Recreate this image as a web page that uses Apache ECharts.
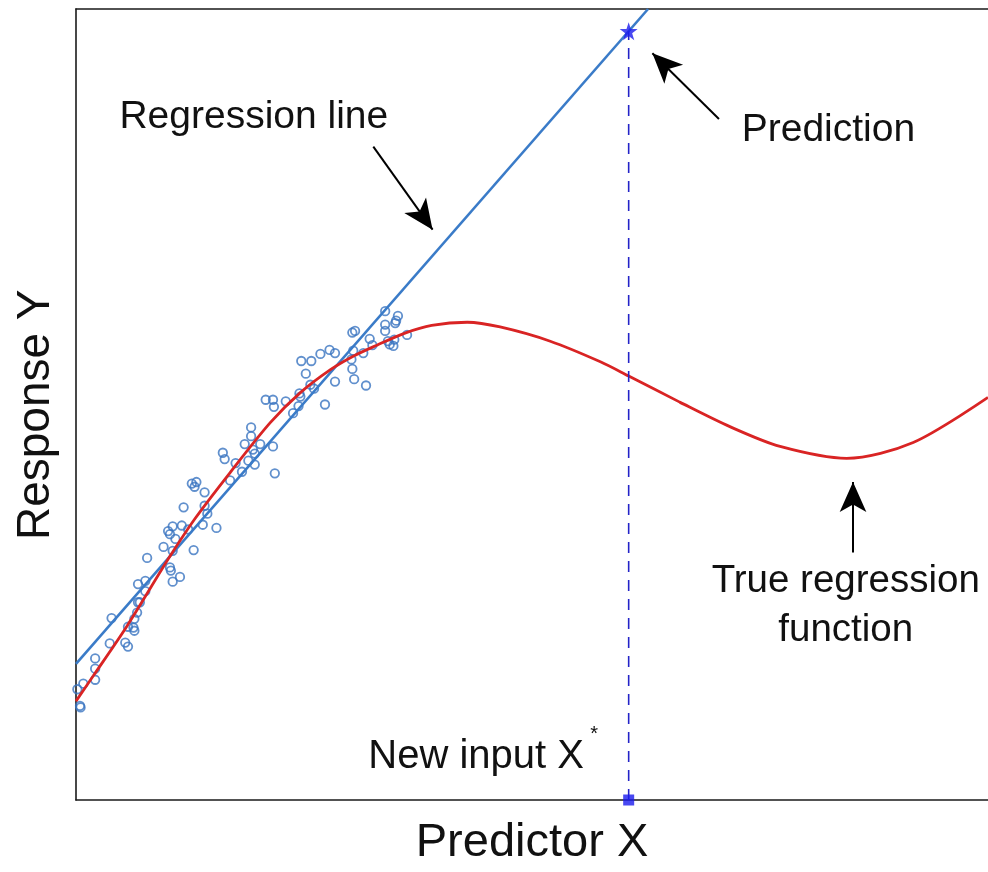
<!DOCTYPE html>
<html><head><meta charset="utf-8">
<script src="https://cdn.jsdelivr.net/npm/echarts@6/dist/echarts.min.js"></script>
<style>html,body{margin:0;padding:0;background:#fff}#c{width:988px;height:872px}</style>
</head><body><div id="c"></div>
<script>
// observed sample points (axis units 0..100)
const obsX = [0.15,0.8,0.44,0.5,2.1,2.1,2.1,3.7,3.9,5.4,
  5.7,5.7,6.3,6.4,6.4,6.7,6.8,7.0,6.8,7.6,
  7.6,7.8,9.6,10.3,10.4,10.6,10.6,11.4,10.9,10.1,
  10.3,10.6,11.6,12.3,11.8,12.9,13.9,14.1,14.4,15.4,
  12.7,13.0,13.2,14.1,16.1,16.3,16.9,17.5,18.2,18.5,
  18.9,19.2,19.2,19.4,19.6,19.6,20.2,21.6,21.8,20.8,
  21.6,21.7,23.0,23.8,24.4,24.5,24.6,24.7,25.2,25.7,
  25.8,26.1,26.8,27.3,27.8,28.4,28.4,30.3,30.2,30.3,
  30.5,31.5,31.8,32.2,32.5,33.9,33.9,33.9,34.2,34.4,
  34.8,34.9,35.0,35.1,35.3,36.3,30.4,30.6];
const obsY = [14.0,14.7,11.9,11.7,17.9,16.6,15.2,19.8,23.0,19.9,
  19.4,21.9,21.8,21.4,22.9,23.7,25.0,25.0,27.3,27.7,
  26.4,30.6,32.0,29.4,29.0,27.6,31.5,28.2,33.0,34.0,
  33.6,34.6,34.7,34.2,37.0,31.6,34.8,37.2,36.2,34.4,
  40.0,39.6,40.2,38.9,43.9,43.1,40.4,42.6,41.5,45.0,
  42.9,47.1,46.0,44.3,43.8,42.4,45.0,44.7,41.3,50.6,
  50.6,49.7,50.4,48.9,49.8,51.4,51.0,55.5,53.9,52.5,
  55.5,52.0,56.4,50.0,56.9,56.5,52.9,59.1,55.7,54.5,
  53.2,56.5,52.4,58.3,57.5,61.8,60.1,59.3,58.0,57.6,
  57.4,58.2,60.3,60.6,61.2,58.8,56.8,59.3];
// true regression function
const trueX = [0,1.9,5.6,10.3,13.0,16.9,21.3,24.6,27.9,30.4,33.0,36.0,39.0,42.9,46.5,52.0,57.5,60.6,66.2,71.7,77.2,84.5,91.8,100];
const trueY = [12.5,15.7,22.0,30.8,35.5,41.4,47.7,51.5,54.4,56.1,57.5,59.0,60.0,60.4,59.8,58.0,55.4,53.6,50.3,47.2,44.7,43.2,45.2,50.9];
// fitted regression line
const regIntercept = 17.2;
const regSlope = 1.32;
const newInputX = 60.6;
const axisNames = ['Predictor X', 'Response Y'];
const labels = ['Regression line', 'Prediction', 'New input X', '*', 'True regression\nfunction'];

const AX_MIN = 0, AX_MAX = 100;
const FONT = '"Liberation Sans", Arial, Helvetica, sans-serif';
const chart = echarts.init(document.getElementById('c'), null, {renderer: 'canvas'});

const scatterData = obsX.map((x, i) => [x, obsY[i]]);
const trueData = trueX.map((x, i) => [x, trueY[i]]);
const xTop = (AX_MAX - regIntercept) / regSlope;
const regData = [[AX_MIN, regIntercept], [xTop, AX_MAX]];
const yPred = regIntercept + regSlope * newInputX;

const arrowLines = [
  [{coord: [32.6, 82.6]}, {coord: [39.1, 72.1]}],
  [{coord: [70.5, 86.1]}, {coord: [63.2, 94.4]}],
  [{coord: [85.2, 31.3]}, {coord: [85.2, 40.2]}]
];

const axisLineStyle = {color: '#1a1a1a', width: 1.6};

chart.setOption({
  animation: false,
  backgroundColor: '#ffffff',
  grid: {left: 76, right: 0, top: 9, bottom: 71, containLabel: false},
  xAxis: [
    {type: 'value', min: AX_MIN, max: AX_MAX, position: 'bottom',
     axisLine: {show: true, onZero: false, lineStyle: axisLineStyle},
     axisTick: {show: false}, axisLabel: {show: false}, splitLine: {show: false},
     name: axisNames[0], nameLocation: 'middle', nameGap: 20,
     nameTextStyle: {fontSize: 47, color: '#111', fontFamily: FONT}},
    {type: 'value', min: AX_MIN, max: AX_MAX, position: 'top',
     axisLine: {show: true, onZero: false, lineStyle: axisLineStyle},
     axisTick: {show: false}, axisLabel: {show: false}, splitLine: {show: false}}
  ],
  yAxis: {type: 'value', min: AX_MIN, max: AX_MAX,
    axisLine: {show: true, onZero: false, lineStyle: axisLineStyle},
    axisTick: {show: false}, axisLabel: {show: false}, splitLine: {show: false}},
  series: [
    {type: 'scatter', data: scatterData, symbol: 'circle', symbolSize: 8.5,
     itemStyle: {color: 'rgba(0,0,0,0)', borderColor: '#3a74c0', borderWidth: 1.8},
     silent: true, z: 2,
     markLine: {silent: true, symbol: ['none', 'arrow'], symbolSize: [20, 30],
       label: {show: false}, lineStyle: {color: '#000', width: 2, type: 'solid'},
       emphasis: {disabled: true}, data: arrowLines}},
    {type: 'line', data: regData, showSymbol: false, silent: true, z: 3,
     lineStyle: {color: '#3a7bc8', width: 2.6}},
    {type: 'line', data: trueData, smooth: 0.3, showSymbol: false, silent: true, z: 4,
     lineStyle: {color: '#d92424', width: 2.8}},
    {type: 'line', data: [[newInputX, AX_MIN], [newInputX, yPred]], showSymbol: false, silent: true, z: 5,
     lineStyle: {color: '#2323c8', width: 1.6, type: [11, 8]}},
    {type: 'scatter', data: [[newInputX, yPred]], silent: true, z: 6, clip: false,
     symbol: 'path://M50,0 L61.8,35.3 L98.9,35.3 L68.9,57.1 L80.4,92.5 L50,70.6 L19.6,92.5 L31.1,57.1 L1.1,35.3 L38.2,35.3 Z',
     symbolSize: 18, itemStyle: {color: '#1a1aee'}},
    {type: 'scatter', data: [[newInputX, AX_MIN]], silent: true, z: 6, clip: false,
     symbol: 'rect', symbolSize: 11, itemStyle: {color: '#1a1aee'}}
  ]
});

function px(x, y) { return chart.convertToPixel({xAxisIndex: 0, yAxisIndex: 0}, [x, y]); }
function txt(pos, text, size, align, extra) {
  return Object.assign({type: 'text', x: pos[0], y: pos[1], silent: true, z: 10,
    style: {text: text, fontSize: size, fontFamily: FONT, fill: '#111', align: align, verticalAlign: 'middle'}}, extra || {});
}
const pReg = px(19.5, 86.3), pPred = px(82.5, 84.7), pNew = px(55.7, 5.4), pAst = px(56.4, 8.3), pTrue = px(84.4, 24.5);
const pYName = px(AX_MIN, 48.7);
const gTrue = txt(pTrue, labels[4], 38.5, 'center');
gTrue.style.lineHeight = 49;
chart.setOption({graphic: [
  txt(pReg, labels[0], 39, 'center'),
  txt(pPred, labels[1], 39, 'center'),
  txt(pNew, labels[2], 40, 'right'),
  txt(pAst, labels[3], 20, 'left'),
  gTrue,
  txt([pYName[0] - 40, pYName[1]], axisNames[1], 46, 'center', {rotation: Math.PI / 2})
]});
</script></body></html>
